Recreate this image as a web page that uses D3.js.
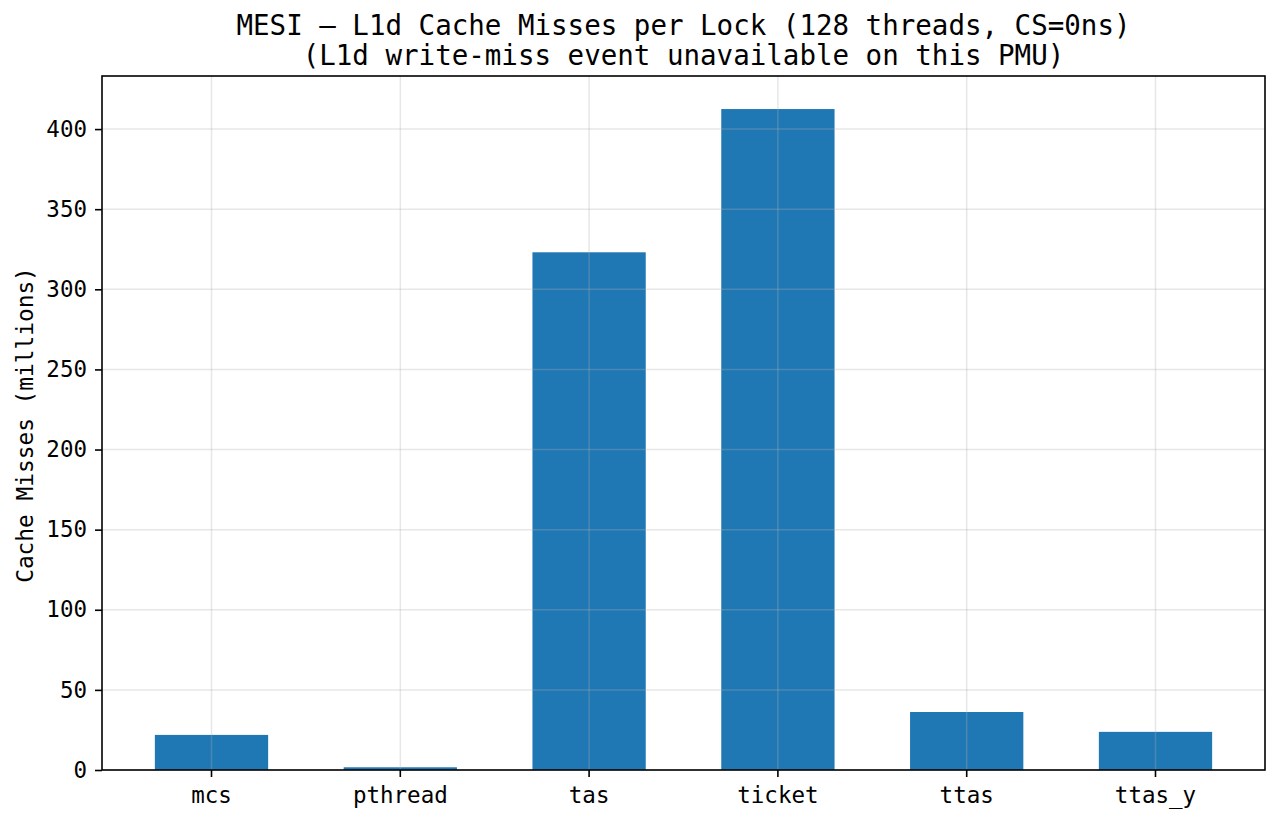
<!DOCTYPE html>
<html lang="en">
<head>
    <meta charset="UTF-8">
    <script src="https://d3js.org/d3.v7.min.js"></script>
    <title>MESI L1d Cache Misses</title>
    <style>
        body { margin: 0; background: #fff; }
        svg text { font-family: "DejaVu Sans Mono", monospace; fill: #000; }
    </style>
</head>
<body>
    <script>
        // data
        const locks = ["mcs", "pthread", "tas", "ticket", "ttas", "ttas_y"];
        const misses = [21.9, 1.7, 323.1, 412.5, 36.2, 23.8];
        const yTicks = [0, 50, 100, 150, 200, 250, 300, 350, 400];
        const titleLines = [
            "MESI \u2013 L1d Cache Misses per Lock (128 threads, CS=0ns)",
            "(L1d write-miss event unavailable on this PMU)"
        ];

        const w = 1279;
        const h = 823;
        // plot box edges
        const pLeft = 102, pRight = 1265, pTop = 76, pBottom = 770;

        const svg = d3.select("body").append("svg")
            .attr("width", w)
            .attr("height", h);

        // scales
        const xScale = d3.scaleBand()
            .domain(locks)
            .range([pLeft, pRight])
            .paddingInner(0.4)
            .paddingOuter(0.28);

        const yScale = d3.scaleLinear()
            .domain([0, d3.max(misses) * 1.05])
            .range([pBottom, pTop]);

        // bars
        svg.selectAll("rect.bar")
            .data(locks)
            .enter()
            .append("rect")
            .attr("class", "bar")
            .attr("x", d => xScale(d))
            .attr("y", (d, i) => yScale(misses[i]))
            .attr("width", xScale.bandwidth())
            .attr("height", (d, i) => pBottom - yScale(misses[i]))
            .attr("fill", "#1f77b4");

        // grid goes over the bars
        const grid = svg.append("g")
            .attr("stroke", "#b0b0b0")
            .attr("stroke-opacity", 0.3)
            .attr("stroke-width", 1.5);

        grid.selectAll("line.gy")
            .data(yTicks)
            .enter()
            .append("line")
            .attr("x1", pLeft).attr("x2", pRight)
            .attr("y1", d => yScale(d)).attr("y2", d => yScale(d));

        grid.selectAll("line.gx")
            .data(locks)
            .enter()
            .append("line")
            .attr("x1", d => xScale(d) + xScale.bandwidth() / 2)
            .attr("x2", d => xScale(d) + xScale.bandwidth() / 2)
            .attr("y1", pTop).attr("y2", pBottom);

        // axes
        const xAxis = d3.axisBottom(xScale).tickSizeInner(7).tickSizeOuter(0).tickPadding(10);
        const yAxis = d3.axisLeft(yScale).tickValues(yTicks).tickSizeInner(7).tickSizeOuter(0).tickPadding(8);

        const gx = svg.append("g")
            .attr("transform", "translate(0," + pBottom + ")")
            .call(xAxis);

        const gy = svg.append("g")
            .attr("transform", "translate(" + pLeft + ",0)")
            .call(yAxis);

        [gx, gy].forEach(g => {
            g.select(".domain").remove();
            g.selectAll(".tick line").attr("stroke", "#000").attr("stroke-width", 1.6);
            g.selectAll(".tick text")
                .attr("font-family", "DejaVu Sans Mono")
                .attr("font-size", "22.5px")
                .attr("fill", "#000");
        });

        // frame
        svg.append("rect")
            .attr("x", pLeft)
            .attr("y", pTop)
            .attr("width", pRight - pLeft)
            .attr("height", pBottom - pTop)
            .attr("fill", "none")
            .attr("stroke", "#000")
            .attr("stroke-width", 1.6);

        // y label
        svg.append("text")
            .attr("transform", "translate(33," + ((pTop + pBottom) / 2 + 2) + ") rotate(-90)")
            .attr("text-anchor", "middle")
            .attr("font-size", "22.8px")
            .text("Cache Misses (millions)");

        // title
        svg.selectAll("text.title")
            .data(titleLines)
            .enter()
            .append("text")
            .attr("class", "title")
            .attr("x", (pLeft + pRight) / 2)
            .attr("y", (d, i) => 35 + i * 30)
            .attr("text-anchor", "middle")
            .attr("font-size", "27.5px")
            .text(d => d);
    </script>
</body>
</html>
